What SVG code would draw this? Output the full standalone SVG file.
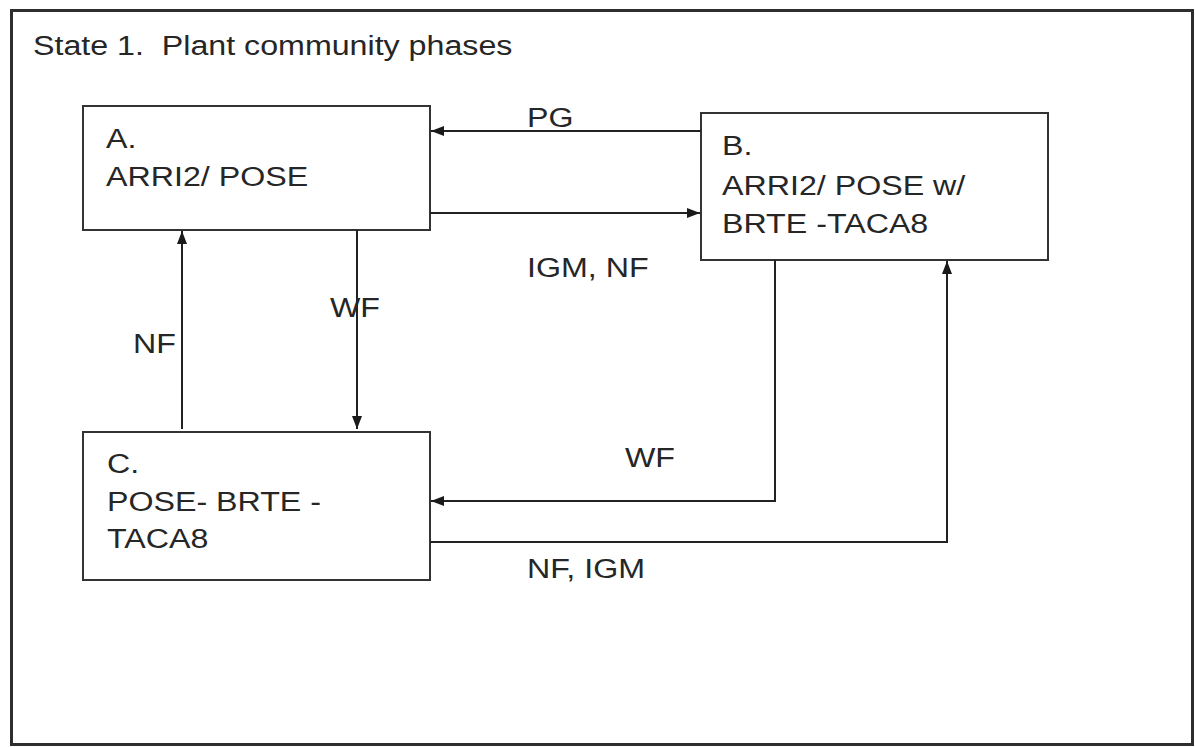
<svg xmlns="http://www.w3.org/2000/svg" width="1195" height="747" viewBox="0 0 1195 747">
<defs>
<marker id="ah" viewBox="0 0 13 10" refX="13" refY="5" markerWidth="13" markerHeight="10" markerUnits="userSpaceOnUse" orient="auto">
<path d="M0,0 L13,5 L0,10 Z" fill="#1a1a1a"/>
</marker>
<style>
text{font-family:"Liberation Sans",Arial,sans-serif;font-size:28px;fill:#262626;white-space:pre}
.box{fill:#fff;stroke:#333;stroke-width:2}
.c{fill:none;stroke:#222;stroke-width:2}
</style>
</defs>
<rect width="1195" height="747" fill="#fff"/>
<rect x="11.5" y="10.5" width="1181" height="734" fill="none" stroke="#2e2e2e" stroke-width="3"/>
<text transform="translate(33,55) scale(1.15,1)" xml:space="preserve">State 1.  Plant community phases</text>
<g id="nodeA">
<rect class="box" x="83" y="106" width="347" height="124"/>
<text transform="translate(106,148) scale(1.15,1)">A.</text>
<text transform="translate(106,186) scale(1.15,1)">ARRI2/ POSE</text>
</g>
<g id="nodeB">
<rect class="box" x="701" y="113" width="347" height="147"/>
<text transform="translate(722,155) scale(1.15,1)">B.</text>
<text transform="translate(722,195) scale(1.15,1)">ARRI2/ POSE w/</text>
<text transform="translate(722,233) scale(1.15,1)">BRTE -TACA8</text>
</g>
<g id="nodeC">
<rect class="box" x="83" y="432" width="347" height="148"/>
<text transform="translate(107,473) scale(1.15,1)">C.</text>
<text transform="translate(107,511) scale(1.15,1)">POSE- BRTE -</text>
<text transform="translate(107,548) scale(1.15,1)">TACA8</text>
</g>
<g id="connectors">
<path class="c" d="M701,131 H431" marker-end="url(#ah)"/>
<path class="c" d="M430,213 H700" marker-end="url(#ah)"/>
<path class="c" d="M357,230 V429" marker-end="url(#ah)"/>
<path class="c" d="M182,429 V231" marker-end="url(#ah)"/>
<path class="c" d="M775,260 V501 H431" marker-end="url(#ah)"/>
<path class="c" d="M430,542 H947 V261" marker-end="url(#ah)"/>
<text transform="translate(527,127) scale(1.15,1)">PG</text>
<text transform="translate(527,277) scale(1.15,1)">IGM, NF</text>
<text transform="translate(330,317) scale(1.15,1)">WF</text>
<text transform="translate(133,353) scale(1.15,1)">NF</text>
<text transform="translate(625,467) scale(1.15,1)">WF</text>
<text transform="translate(527,578) scale(1.15,1)">NF, IGM</text>
</g>
</svg>
